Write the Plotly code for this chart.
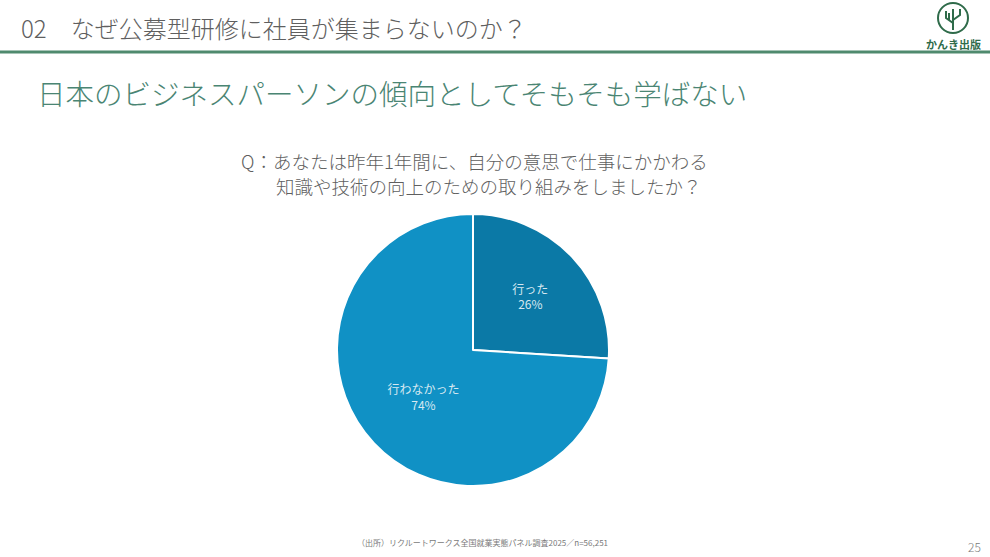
import plotly.graph_objects as go

# data
labels = ["行った", "行わなかった"]
shares = [26, 74]
slice_colors = ["#0b79a6", "#1091c5"]

section_title = "02　なぜ公募型研修に社員が集まらないのか？"
slide_title = "日本のビジネスパーソンの傾向としてそもそも学ばない"
question_lines = [
    "Q：あなたは昨年1年間に、自分の意思で仕事にかかわる",
    "知識や技術の向上のための取り組みをしましたか？",
]
source_note = "（出所）リクルートワークス全国就業実態パネル調査2025／n=56,251"
page_no = "25"

W, H = 990, 557
JP = "Noto Sans CJK JP"


def px_x(x):
    return x / W


def px_y(y):
    return 1 - y / H


fig = go.Figure(
    go.Pie(
        labels=labels,
        values=shares,
        sort=False,
        direction="clockwise",
        rotation=0,
        marker=dict(colors=slice_colors, line=dict(color="white", width=2)),
        texttemplate="%{label}<br>%{percent:.0%}",
        textposition="inside",
        insidetextorientation="horizontal",
        textfont=dict(family=JP, size=12, color="#d6e8f1"),
        hoverinfo="label+percent",
        showlegend=False,
        domain=dict(x=[px_x(337), px_x(609)], y=[px_y(486), px_y(214)]),
    )
)

annotations = [
    dict(x=px_x(19), y=px_y(27), text=section_title, xanchor="left", yanchor="middle",
         font=dict(family=JP, size=24, color="#5f5f5f", weight=300)),
    dict(x=px_x(35), y=px_y(92), text=slide_title, xanchor="left", yanchor="middle",
         font=dict(family=JP, size=28.5, color="#4a8573", weight=300)),
    dict(x=px_x(239), y=px_y(161), text=question_lines[0], xanchor="left", yanchor="middle",
         font=dict(family=JP, size=18.5, color="#5f5f5f", weight=300)),
    dict(x=px_x(274), y=px_y(186), text=question_lines[1], xanchor="left", yanchor="middle",
         font=dict(family=JP, size=18.5, color="#5f5f5f", weight=300)),
    dict(x=px_x(355), y=px_y(542), text=source_note, xanchor="left", yanchor="middle",
         font=dict(family=JP, size=8, color="#7a7a7a")),
    dict(x=px_x(983), y=px_y(546), text=page_no, xanchor="right", yanchor="middle",
         font=dict(family=JP, size=12, color="#7a7a7a", weight=300)),
    dict(x=px_x(953), y=px_y(44), text="<b>かんき出版</b>", xanchor="center", yanchor="middle",
         font=dict(family=JP, size=11, color="#2f6b4a")),
]

shapes = [
    # header rule
    dict(type="line", xref="paper", yref="paper", x0=0, x1=1, y0=px_y(52), y1=px_y(52),
         line=dict(color="#4f8a6e", width=3)),
    # logo ring
    dict(type="circle", xref="paper", yref="paper",
         x0=px_x(938), x1=px_x(968), y0=px_y(33), y1=px_y(3),
         line=dict(color="#2f6b4a", width=2)),
    # logo cactus
    dict(type="path", xref="paper", yref="paper",
         path=f"M {px_x(953)},{px_y(30)} L {px_x(953)},{px_y(9)} "
              f"M {px_x(953)},{px_y(23)} L {px_x(946)},{px_y(18)} L {px_x(946)},{px_y(11)} "
              f"M {px_x(953)},{px_y(20)} L {px_x(960)},{px_y(15)} L {px_x(960)},{px_y(9)} "
              f"M {px_x(949)},{px_y(20)} L {px_x(949)},{px_y(13)}",
         line=dict(color="#2f6b4a", width=2)),
]

fig.update_layout(
    width=W,
    height=H,
    margin=dict(l=0, r=0, t=0, b=0),
    paper_bgcolor="white",
    plot_bgcolor="white",
    annotations=[dict(a, xref="paper", yref="paper", showarrow=False) for a in annotations],
    shapes=shapes,
)

fig.write_html("out.html", config={"displayModeBar": False},
               post_script="document.body.style.margin='0';")
